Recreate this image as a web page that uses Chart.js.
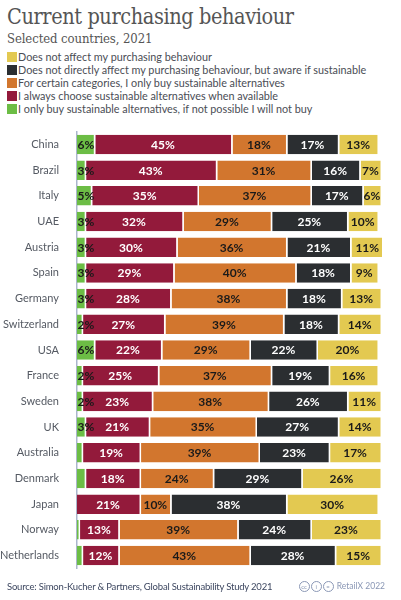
<!DOCTYPE html>
<html lang="en">
<head>
    <meta charset="UTF-8">
    <title>Current purchasing behaviour</title>
    <style>
        body { margin: 0; width: 401px; height: 600px; background: #fff; position: relative; font-family: Lato, sans-serif; color: #4a4d55; overflow: hidden; }
        h1 { position: absolute; left: 7px; top: 4px; margin: 0; font-family: "DejaVu Serif Condensed", "DejaVu Serif", serif; font-stretch: condensed; font-weight: normal; font-size: 21.5px; color: #555; letter-spacing: -0.4px; }
        h2 { position: absolute; left: 7px; top: 31px; margin: 0; font-family: "DejaVu Serif Condensed", "DejaVu Serif", serif; font-stretch: condensed; font-weight: normal; font-size: 13px; color: #555; letter-spacing: -0.1px; }
        #legend { position: absolute; left: 7px; top: 50px; font-size: 10.8px; line-height: 13px; color: #4a4d55; }
        #legend div { white-space: nowrap; }
        #legend span { display: inline-block; width: 10px; height: 10px; vertical-align: -1px; margin-right: 1px; }
        #wrap { position: absolute; left: 0; top: 115px; width: 401px; height: 470px; }
        #source { position: absolute; left: 7px; top: 581px; font-size: 9.5px; letter-spacing: -0.2px; color: #3d4760; }
        #credit { position: absolute; right: 16px; top: 581px; font-size: 8.5px; color: #8a97b5; }
        #credit i { display: inline-block; width: 9px; height: 9px; border: 1px solid #8a97b5; border-radius: 50%; font-style: normal; font-size: 6px; line-height: 9px; text-align: center; margin-right: 1px; vertical-align: 0px; }
    </style>
</head>
<body>
    <h1>Current purchasing behaviour</h1>
    <h2>Selected countries, 2021</h2>
    <div id="legend"></div>
    <div id="wrap"><canvas id="myChart"></canvas></div>
    <div id="source">Source: Simon-Kucher &amp; Partners, Global Sustainability Study 2021</div>
    <div id="credit"><i>cc</i><i>i</i><i>=</i> RetailX 2022</div>

    <script src="https://cdn.jsdelivr.net/npm/chart.js"></script>

    <script>
        // 데이터
        const countries = ['China', 'Brazil', 'Italy', 'UAE', 'Austria', 'Spain', 'Germany', 'Switzerland', 'USA',
                           'France', 'Sweden', 'UK', 'Australia', 'Denmark', 'Japan', 'Norway', 'Netherlands'];

        const onlyBuy    = [6, 3, 5, 3, 3, 3, 3, 2, 6, 2, 2, 3, 2, 3, 0, 1, 2];
        const alwaysSust = [45, 43, 35, 32, 30, 29, 28, 27, 22, 25, 23, 21, 19, 18, 21, 13, 12];
        const certainCat = [18, 31, 37, 29, 36, 40, 38, 39, 29, 37, 38, 35, 39, 24, 10, 39, 43];
        const awareSust  = [17, 16, 17, 25, 21, 18, 18, 18, 22, 19, 26, 27, 23, 29, 38, 24, 28];
        const notAffect  = [13, 7, 6, 10, 11, 9, 13, 14, 20, 16, 11, 14, 17, 26, 30, 23, 15];

        // 녹색 막대 라벨이 안 보이는 나라들
        const hideGreenLabel = ['Australia', 'Denmark', 'Japan', 'Norway', 'Netherlands'];

        const series = [
            { label: 'I only buy sustainable alternatives, if not possible I will not buy', data: onlyBuy, color: '#6cbd45', text: '#1a1a1a' },
            { label: 'I always choose sustainable alternatives when available', data: alwaysSust, color: '#931a3b', text: '#fff' },
            { label: 'For certain categories, I only buy sustainable alternatives', data: certainCat, color: '#d2762e', text: '#1a1a1a' },
            { label: 'Does not directly affect my purchasing behaviour, but aware if sustainable', data: awareSust, color: '#2b2e31', text: '#fff' },
            { label: 'Does not affect my purchasing behaviour', data: notAffect, color: '#e3c951', text: '#1a1a1a' }
        ];

        // 범례 (위에서부터 노랑 -> 초록)
        let msg = '';
        for (let i = series.length - 1; i >= 0; i--) {
            msg += `<div><span style="background:${series[i].color}"></span>${series[i].label}</div>`;
        }
        document.getElementById('legend').innerHTML = msg;

        // 막대 안 퍼센트 라벨
        const barLabels = {
            id: 'barLabels',
            afterDatasetsDraw(chart) {
                const ctx = chart.ctx;
                ctx.save();
                ctx.font = 'bold 12px Lato';
                ctx.textBaseline = 'middle';
                chart.data.datasets.forEach((ds, di) => {
                    const meta = chart.getDatasetMeta(di);
                    meta.data.forEach((bar, i) => {
                        const v = ds.data[i];
                        if (!v) return;
                        if (di === 0 && hideGreenLabel.includes(countries[i])) return;
                        ctx.fillStyle = series[di].text;
                        if (di === 0) {
                            ctx.textAlign = 'left';
                            ctx.fillText(v + '%', bar.base + 0.5, bar.y + 0.5);
                        } else {
                            ctx.textAlign = 'center';
                            ctx.fillText(v + '%', (bar.x + bar.base) / 2 - 1, bar.y + 0.5);
                        }
                    });
                });
                ctx.restore();
            }
        };

        new Chart(document.getElementById('myChart'), {
            type: 'bar',
            data: {
                labels: countries,
                datasets: series.map(s => ({
                    label: s.label,
                    data: s.data,
                    backgroundColor: s.color,
                    borderColor: '#ffffff',
                    borderWidth: { left: 0, right: 1.5, top: 0, bottom: 0 },
                    borderSkipped: false,
                    barPercentage: 0.76,
                    categoryPercentage: 1
                }))
            },
            options: {
                indexAxis: 'y',
                responsive: true,
                maintainAspectRatio: false,
                animation: false,
                layout: { padding: { top: 5, right: 19, bottom: 0, left: 0 } },
                plugins: {
                    legend: { display: false },
                    tooltip: { enabled: false }
                },
                scales: {
                    x: {
                        stacked: true,
                        min: 0,
                        max: 100,
                        display: false
                    },
                    y: {
                        stacked: true,
                        grid: { display: false },
                        border: { display: true, color: '#aab6cc', width: 1.5, dash: [1.5, 3] },
                        ticks: {
                            color: '#555a63',
                            padding: 10,
                            font: { family: 'Lato', size: 11 }
                        },
                        afterFit(scale) { scale.width = 77; }
                    }
                }
            },
            plugins: [barLabels]
        });
    </script>
</body>
</html>
